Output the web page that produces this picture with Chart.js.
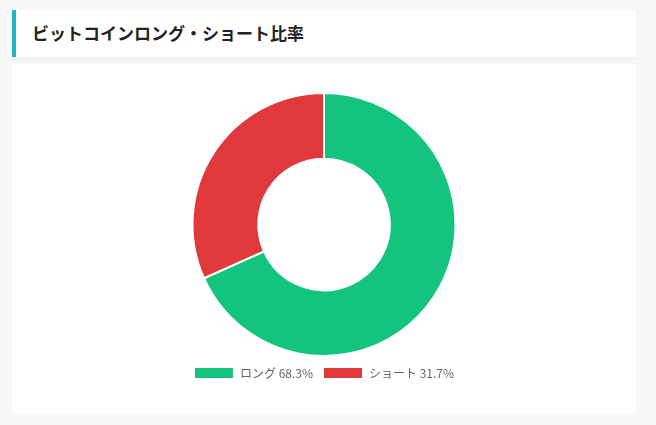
<!DOCTYPE html>
<html lang="ja">
<head>
<meta charset="utf-8">
<script src="https://cdn.jsdelivr.net/npm/chart.js@4"></script>
<style>
  html, body { margin: 0; padding: 0; background: #f7f7f7; }
  body { width: 656px; height: 425px; overflow: hidden; font-family: "Noto Sans CJK JP", "Noto Sans", sans-serif; }
  .titre {
    position: absolute; left: 12px; top: 10px; width: 620px; height: 47px;
    background: #fff; border-left: 4px solid #1bb8c4;
    box-shadow: 0 2px 3px rgba(0,0,0,0.04);
  }
  .titre h2 {
    margin: 0; padding-left: 16px; line-height: 46px;
    font-size: 17px; font-weight: bold; color: #222;
  }
  .boite {
    position: absolute; left: 12px; top: 64px; width: 624px; height: 350px;
    background: #fff;
  }
  .graphe { position: absolute; left: 0; top: 20px; width: 624px; height: 305px; }
</style>
</head>
<body>
<div class="titre"><h2>ビットコインロング・ショート比率</h2></div>
<div class="boite">
  <div class="graphe"><canvas id="ratio-chart"></canvas></div>
</div>
<script>
// Données du ratio long / short
const etiquettes = ['ロング 68.3%', 'ショート 31.7%'];
const valeurs = [68.3, 31.7];
const couleurs = ['#14c47e', '#e0393b'];

const ctx = document.getElementById('ratio-chart').getContext('2d');
new Chart(ctx, {
    type: 'doughnut',
    data: {
        labels: etiquettes,
        datasets: [{
            data: valeurs,
            backgroundColor: couleurs,
            borderColor: '#fff',
            borderWidth: 2
        }]
    },
    options: {
        responsive: true,
        maintainAspectRatio: false,
        animation: false,
        cutout: '50%',
        layout: { padding: { top: 8, bottom: 0 } },
        plugins: {
            legend: {
                position: 'bottom',
                labels: {
                    boxWidth: 40,
                    boxHeight: 12,
                    color: '#666',
                    font: { size: 12, family: '"Noto Sans CJK JP", sans-serif' }
                }
            },
            tooltip: { enabled: false }
        }
    }
});
</script>
</body>
</html>
